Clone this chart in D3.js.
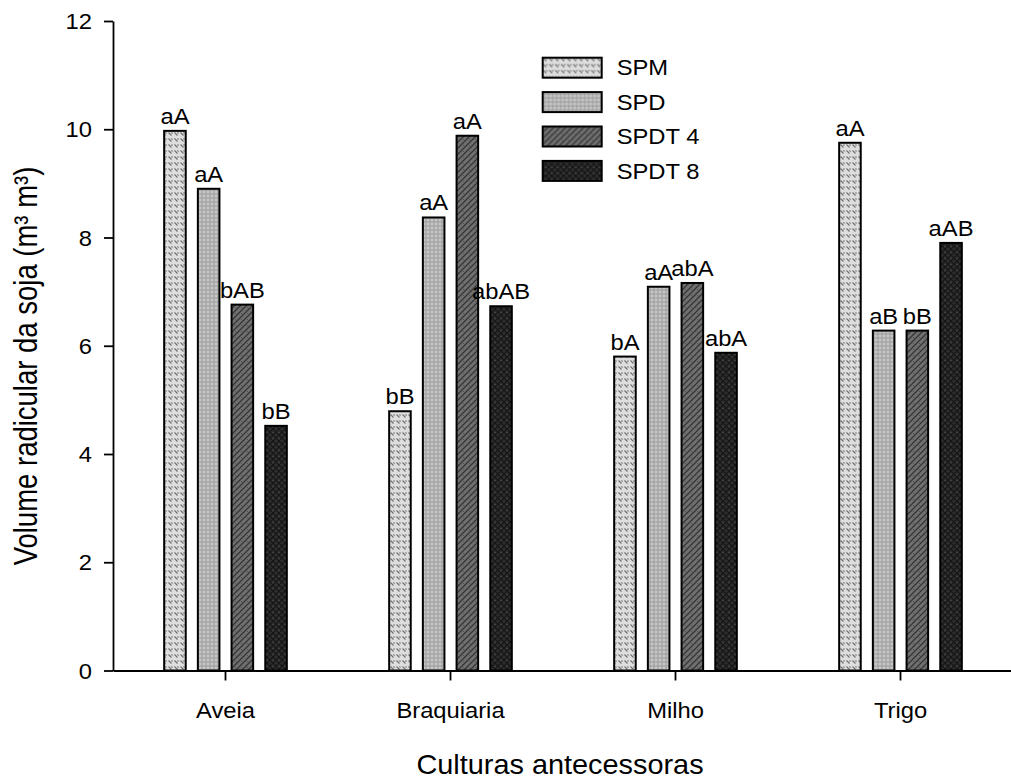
<!DOCTYPE html>
<html>
<head>
<meta charset="utf-8">
<script src="https://cdn.jsdelivr.net/npm/d3@7"></script>
<style>
  html, body { margin: 0; padding: 0; background: #fff; }
  svg { display: block; }
  text { font-family: "Liberation Sans", Arial, sans-serif; fill: #000; }
</style>
</head>
<body>
<svg id="chart" width="1011" height="780"></svg>
<script>
// Preceding crops and tillage systems
const categories = ["Aveia", "Braquiaria", "Milho", "Trigo"];
const series = ["SPM", "SPD", "SPDT 4", "SPDT 8"];

// Soybean root volume per crop, one array per system (same order as categories)
const spm   = [9.97, 4.79, 5.80, 9.75];
const spd   = [8.90, 8.37, 7.09, 6.28];
const spdt4 = [6.76, 9.88, 7.16, 6.28];
const spdt8 = [4.52, 6.73, 5.87, 7.90];

// Significance letters printed over each bar
const lblSpm   = ["aA", "bB", "bA", "aA"];
const lblSpd   = ["aA", "aA", "aA", "aB"];
const lblSpdt4 = ["bAB", "aA", "abA", "bB"];
const lblSpdt8 = ["bB", "abAB", "abA", "aAB"];

const yTicks = [0, 2, 4, 6, 8, 10, 12];

const values = [spm, spd, spdt4, spdt8];
const labels = [lblSpm, lblSpd, lblSpdt4, lblSpdt8];

const FS = 22;        // base font size
const SX = 1.08;      // slight horizontal stretch of the lettering

const svg = d3.select("#chart");

// ---- fill patterns ----
const defs = svg.append("defs");

const pSpm = defs.append("pattern").attr("id", "p-spm")
  .attr("patternUnits", "userSpaceOnUse").attr("width", 6).attr("height", 6);
pSpm.append("rect").attr("width", 6).attr("height", 6).attr("fill", "#dedede");
pSpm.append("path").attr("d", "M0.5,0.5 L3.5,3.5 M3.5,0.5 L4.5,1.5")
  .attr("stroke", "#6e6e6e").attr("stroke-width", 1.1).attr("fill", "none");

const pSpd = defs.append("pattern").attr("id", "p-spd")
  .attr("patternUnits", "userSpaceOnUse").attr("width", 4).attr("height", 4);
pSpd.append("rect").attr("width", 4).attr("height", 4).attr("fill", "#c6c6c6");
pSpd.append("circle").attr("cx", 2).attr("cy", 2).attr("r", 1.2)
  .attr("fill", "none").attr("stroke", "#8c8c8c").attr("stroke-width", 0.8);

const pT4 = defs.append("pattern").attr("id", "p-t4")
  .attr("patternUnits", "userSpaceOnUse").attr("width", 6).attr("height", 6);
pT4.append("rect").attr("width", 6).attr("height", 6).attr("fill", "#707070");
pT4.append("path").attr("d", "M0,6 L6,0 M-1,1 L1,-1 M5,7 L7,5")
  .attr("stroke", "#363636").attr("stroke-width", 1.3).attr("fill", "none");
pT4.append("path").attr("d", "M1,1 L3,3")
  .attr("stroke", "#4a4a4a").attr("stroke-width", 0.8).attr("fill", "none");

const pT8 = defs.append("pattern").attr("id", "p-t8")
  .attr("patternUnits", "userSpaceOnUse").attr("width", 6).attr("height", 6);
pT8.append("rect").attr("width", 6).attr("height", 6).attr("fill", "#2c2c2c");
pT8.append("path").attr("d", "M0,6 L6,0 M0,0 L6,6")
  .attr("stroke", "#141414").attr("stroke-width", 1.1).attr("fill", "none");
pT8.append("circle").attr("cx", 3).attr("cy", 0.5).attr("r", 0.8).attr("fill", "#454545");

const fills = ["url(#p-spm)", "url(#p-spd)", "url(#p-t4)", "url(#p-t8)"];

// ---- scales ----
const x0 = d3.scaleBand().domain(categories).range([113, 1013]).padding(0);
const groupW = 134.8;
const x1 = d3.scaleBand().domain(series).range([0, groupW])
  .paddingInner(0.36).paddingOuter(0.18);
const y = d3.scaleLinear().domain([0, 12]).range([670.5, 21]);

// ---- bars ----
const rows = [];
categories.forEach((c, i) => {
  series.forEach((s, j) => {
    rows.push({ cat: c, ser: s, j: j, v: values[j][i], lab: labels[j][i] });
  });
});

const barX = d => x0(d.cat) + x0.bandwidth() / 2 - groupW / 2 + x1(d.ser);

svg.append("g").selectAll("rect").data(rows).join("rect")
  .attr("x", barX)
  .attr("y", d => y(d.v))
  .attr("width", x1.bandwidth())
  .attr("height", d => y(0) - y(d.v))
  .attr("fill", d => fills[d.j])
  .attr("stroke", "#000")
  .attr("stroke-width", 2);

svg.append("g").selectAll("text").data(rows).join("text")
  .attr("transform", d => `translate(${barX(d) + x1.bandwidth() / 2},${y(d.v) - 7}) scale(${SX},1)`)
  .attr("text-anchor", "middle")
  .attr("font-size", FS)
  .text(d => d.lab);

// ---- axes ----
const yAxis = svg.append("g").attr("transform", "translate(113,0)")
  .call(d3.axisLeft(y).tickValues(yTicks).tickFormat(d3.format("d"))
    .tickSize(9).tickSizeOuter(0));
yAxis.selectAll("text")
  .attr("x", null).attr("dy", null)
  .attr("dominant-baseline", "central")
  .attr("transform", `translate(-21,0) scale(${SX},1)`)
  .attr("text-anchor", "end")
  .attr("font-size", FS).attr("font-family", null);

const xAxis = svg.append("g").attr("transform", "translate(0,670.5)")
  .call(d3.axisBottom(x0).tickSize(10).tickSizeOuter(0));
xAxis.selectAll("text")
  .attr("y", null).attr("dy", null)
  .attr("transform", `translate(0,47) scale(${SX},1)`)
  .attr("font-size", FS).attr("font-family", null);

svg.selectAll(".domain, .tick line").attr("stroke", "#000").attr("stroke-width", 1.8);

// ---- axis titles ----
svg.append("text")
  .attr("transform", `translate(560,774) scale(1.05,1)`)
  .attr("text-anchor", "middle")
  .attr("font-size", 27.5)
  .text("Culturas antecessoras");

svg.append("text")
  .attr("transform", `translate(37,366) scale(1.18,1) rotate(-90)`)
  .attr("text-anchor", "middle")
  .attr("font-size", 27.5)
  .text("Volume radicular da soja (m³ m³)");

// ---- legend ----
const lg = svg.append("g").attr("transform", "translate(542.7,57.7)");
const ly = d3.scalePoint().domain(series).range([0, 103.2]);
const item = lg.selectAll("g").data(series).join("g")
  .attr("transform", d => `translate(0,${ly(d)})`);
item.append("rect")
  .attr("width", 59).attr("height", 20)
  .attr("fill", (d, i) => fills[i])
  .attr("stroke", "#000").attr("stroke-width", 2);
item.append("text")
  .attr("transform", `translate(74,10) scale(${SX},1)`)
  .attr("dominant-baseline", "central")
  .attr("font-size", FS)
  .text(d => d);
</script>
</body>
</html>
